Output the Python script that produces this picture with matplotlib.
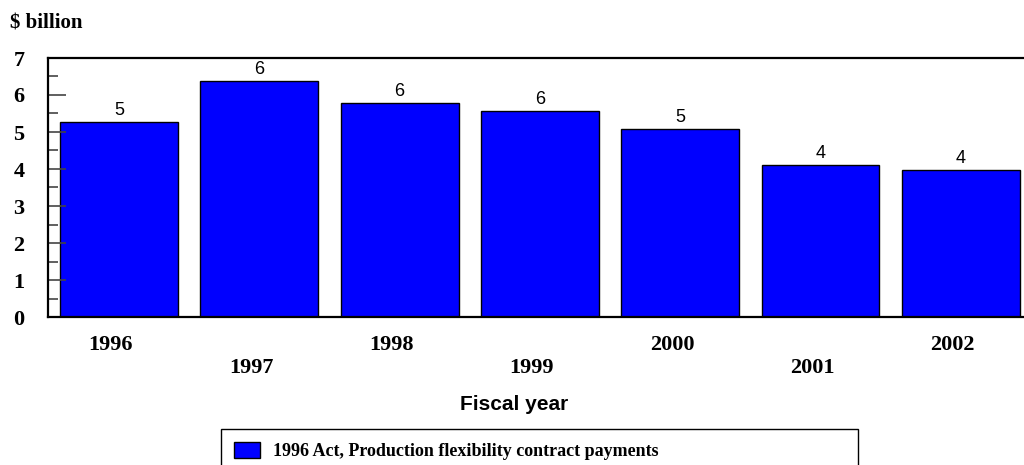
import numpy as np
import matplotlib
matplotlib.use("Agg")
import matplotlib.pyplot as plt
import matplotlib.transforms as mtransforms
from matplotlib.ticker import MultipleLocator


# ── Data ─────────────────────────────────────────────────────────────────────
years    = ["1996", "1997", "1998", "1999", "2000", "2001", "2002"]
payments = [5.27, 6.38, 5.78, 5.57, 5.08, 4.11, 3.97]   # $ billion
series_label = "1996 Act, Production flexibility contract payments"

SERIF = ["Liberation Serif", "DejaVu Serif"]
SANS  = ["Liberation Sans", "DejaVu Sans"]


# ── Figure / axes ────────────────────────────────────────────────────────────
fig = plt.figure(figsize=(10.24, 4.65), dpi=100)
ax = fig.add_axes([48 / 1024, 1 - 317 / 465, 1 - 48 / 1024, (317 - 58) / 465])

x = np.arange(len(years))
bars = ax.bar(x, payments, width=0.84, color="#0000FF",
              edgecolor="black", linewidth=1.0)
ax.bar_label(bars, fmt="%.0f", padding=2, fontsize=13, family=SANS)

ax.set_xlim(-0.506, len(years) - 1 + 0.45)
ax.set_ylim(0, 7)

# y axis: inward ticks, minor every 0.5
ax.yaxis.set_major_locator(MultipleLocator(1))
ax.yaxis.set_minor_locator(MultipleLocator(0.5))
ax.tick_params(axis="y", which="major", direction="in", length=13,
               width=1.2, color="#444444", pad=17)
ax.tick_params(axis="y", which="minor", direction="in", length=7,
               width=1.2, color="#444444")
for lab in ax.get_yticklabels():
    lab.set_family(SERIF)
    lab.set_fontweight("bold")
    lab.set_fontsize(16)

# x axis: alternating two-row labels
xlabels = [y if i % 2 == 0 else "\n" + y for i, y in enumerate(years)]
ax.set_xticks(x, xlabels)
ax.tick_params(axis="x", length=0, pad=13)
shift = mtransforms.ScaledTranslation(-8 / 100, 0, fig.dpi_scale_trans)
for lab in ax.get_xticklabels():
    lab.set_family(SERIF)
    lab.set_fontweight("bold")
    lab.set_fontsize(16)
    lab.set_linespacing(1.2)
    lab.set_transform(lab.get_transform() + shift)

for side in ["top", "left", "bottom"]:
    ax.spines[side].set_linewidth(1.6)
ax.spines["right"].set_visible(False)

# ── Titles ───────────────────────────────────────────────────────────────────
fig.text(10 / 1024, 1 - 23 / 465, "$ billion", family=SERIF,
         fontweight="bold", fontsize=15, va="center", ha="left")
fig.text(514 / 1024, 1 - 404 / 465, "Fiscal year", family=SANS,
         fontweight="bold", fontsize=15, va="center", ha="center")

# ── Legend ───────────────────────────────────────────────────────────────────
leg = fig.legend([bars[0]], [series_label], loc="upper left",
                 bbox_to_anchor=(221 / 1024, 0.0, (858 - 221) / 1024, 36 / 465),
                 mode="expand", borderaxespad=0, fancybox=False,
                 edgecolor="black", framealpha=1, borderpad=0.7,
                 handlelength=1.45, handleheight=1.0, handletextpad=0.75,
                 prop={"family": SERIF, "weight": "bold", "size": 13})
leg.get_frame().set_linewidth(1.0)

plt.savefig("out.png", dpi=100)
